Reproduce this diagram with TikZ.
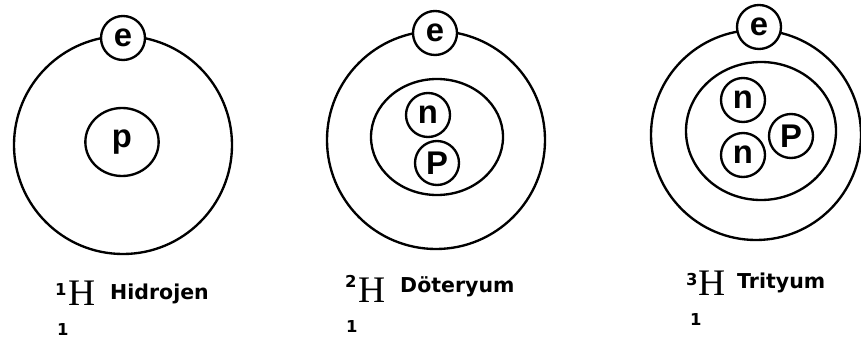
\documentclass[tikz,border=0pt]{standalone}
\usepackage{fontspec}
\setmainfont{Liberation Serif}
\setsansfont{Liberation Sans}
\newfontfamily\lblfont{DejaVu Sans}
\usetikzlibrary{positioning, shapes.geometric}
\tikzset{
  orbit/.style={line width=2pt},
  part/.style={draw, circle, line width=2pt, fill=white, minimum size=13.2mm,
               inner sep=0pt, font=\sffamily\bfseries\fontsize{28}{28}\selectfont},
  elsym/.style={inner sep=0pt, anchor=base west, font=\rmfamily\fontsize{32}{32}\selectfont},
  elname/.style={inner sep=0pt, anchor=base west, font=\lblfont\bfseries\fontsize{17.5}{17.5}\selectfont},
  num/.style={inner sep=0pt, anchor=base west, font=\lblfont\bfseries\fontsize{14}{14}\selectfont},
}

\begin{document}
\begin{tikzpicture}[x=0.3mm, y=-0.3mm]
  \useasboundingbox (0,0) rectangle (861,340);
  % hydrogen: one proton
  \draw[orbit] (123,145) circle (109);
  \node[part, ellipse, minimum width=22mm, minimum height=20.4mm] (p1) at (122,142) {p};
  \node[part] (e1) at (123,38) {e};
  % deuterium: neutron + proton
  \draw[orbit] (436,140) circle (109);
  \draw[orbit] (437,137) ellipse [x radius=66, y radius=58];
  \node[part] (e2) at (435,33) {e};
  \node[part] (n2) at (428,115) {n};
  \node[part] (p2) at (437,163) {P};
  % tritium: two neutrons + proton
  \draw[orbit] (756,135) circle (105);
  \draw[orbit] (761,131) ellipse [x radius=75, y radius=69];
  \node[part] (e3) at (759,27) {e};
  \node[part] (n3a) at (743,100) {n};
  \node[part] (n3b) at (743,155) {n};
  \node[part] (p3) at (791,136) {P};
  % isotope labels
  \node[num] (a1) at (55,295) {1};
  \node[elsym] (h1) at (68,305) {H};
  \node[elname] (l1) at (110,299) {Hidrojen};
  \node[num] (z1) at (57,335) {1};
  \node[num] (a2) at (345,287) {2};
  \node[elsym] (h2) at (358,302) {H};
  \node[elname] (l2) at (400,292) {Döteryum};
  \node[num] (z2) at (346,332) {1};
  \node[num] (a3) at (686,285) {3};
  \node[elsym] (h3) at (698,295) {H};
  \node[elname] (l3) at (737,288) {Trityum};
  \node[num] (z3) at (690,325) {1};
\end{tikzpicture}
\end{document}
